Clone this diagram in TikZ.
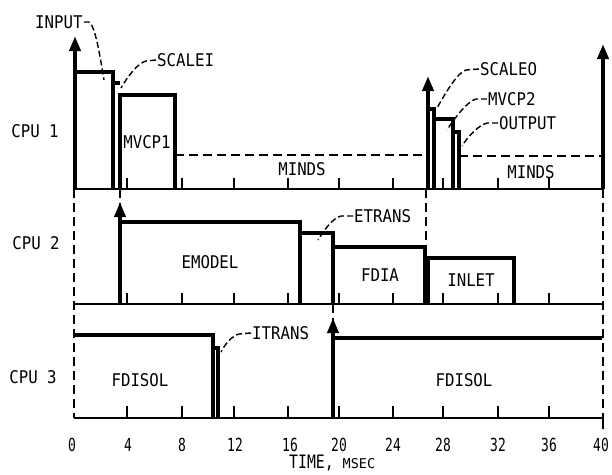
\documentclass[tikz,border=0pt]{standalone}
\usepackage{fontspec}
\setmainfont{DejaVu Sans Mono}[FakeStretch=0.9]
\newfontfamily\numfont{DejaVu Sans Mono}[FakeStretch=0.72]
\newfontfamily\timefont{DejaVu Sans Mono}[FakeStretch=0.8]
\newfontfamily\msecfont{DejaVu Sans Mono}
\usetikzlibrary{arrows.meta}
\begin{document}
\begin{tikzpicture}[x=1pt,y=-1pt,
  task/.style={line width=4pt, line join=miter},
  base/.style={line width=2pt},
  tickmark/.style={line width=1.8pt},
  dsh/.style={line width=2.2pt, dash pattern=on 9pt off 5pt},
  lead/.style={line width=1.4pt, dash pattern=on 6pt off 3pt},
  lbl/.style={font=\fontsize{17.5}{17.5}\selectfont, inner sep=1pt},
  num/.style={font=\numfont\fontsize{18}{18}\selectfont, inner sep=0pt},
  up/.style={-{Triangle[length=15pt,width=11pt]}}]
\useasboundingbox (0,0) rectangle (612,474);

% baselines
\draw[base] (74,189) -- (603,189);
\draw[base] (74,304) -- (603,304);
\draw[base] (74,418) -- (603,418);
\foreach \x in {127,182,234,288,339,393,443,498,549}{
  \draw[tickmark] (\x,189) -- ++(0,-11);
  \draw[tickmark] (\x,304) -- ++(0,-11);
  \draw[tickmark] (\x,418) -- ++(0,-12);
}
\draw[tickmark] (603,418) -- (603,429);

% dashed verticals
\draw[dsh] (74,189) -- (74,418);
\draw[dsh] (603,189) -- (603,418);
\draw[dsh] (120,189) -- (120,206);
\draw[dsh] (426,189) -- (426,247);
\draw[dsh] (333,304) -- (333,322);

% CPU 1
\draw[task, up] (75,189) -- (75,36);
\draw[task] (75,72) -- (113,72) -- (113,189);
\draw[task] (113,83) -- (120,83);
\draw[task] (120,189) -- (120,95) -- (175,95) -- (175,189);
\draw[dsh] (175,155) -- (428,155);
\draw[task, up] (428,189) -- (428,76);
\draw[task] (428,109) -- (434,109) -- (434,189);
\draw[task] (434,119) -- (453,119) -- (453,189);
\draw[task] (453,132) -- (459,132) -- (459,189);
\draw[dsh] (459,156) -- (603,156);
\draw[task, up] (603,189) -- (603,44);

% CPU 2
\draw[task, up] (120,304) -- (120,202);
\draw[task] (120,222) -- (300,222) -- (300,304);
\draw[task] (300,233) -- (333,233) -- (333,304);
\draw[task] (333,247) -- (425,247) -- (425,304);
\draw[task] (428,304) -- (428,258) -- (514,258) -- (514,304);

% CPU 3
\draw[task] (74,335) -- (213,335) -- (213,418);
\draw[task] (213,348) -- (218,348) -- (218,418);
\draw[task, up] (333,418) -- (333,318);
\draw[task] (333,338) -- (602,338);

% labels
\node[lbl] (cpu1) at (35,131) {CPU 1};
\node[lbl] (cpu2) at (36,243) {CPU 2};
\node[lbl] (cpu3) at (33,377) {CPU 3};
\node[lbl] (mvcp1) at (147,142) {MVCP1};
\node[lbl] (minds1) at (302,169) {MINDS};
\node[lbl] (minds2) at (531,172) {MINDS};
\node[lbl] (emodel) at (210,262) {EMODEL};
\node[lbl] (fdia) at (380,275) {FDIA};
\node[lbl] (inlet) at (471,280) {INLET};
\node[lbl] (fdisol1) at (140,380) {FDISOL};
\node[lbl] (fdisol2) at (464,380) {FDISOL};

\node[lbl, anchor=west] (input) at (34,22) {INPUT};
\node[lbl, anchor=west] (scalei) at (156,60) {SCALEI};
\node[lbl, anchor=west] (scaleo) at (479,69) {SCALEO};
\node[lbl, anchor=west] (mvcp2) at (487,99) {MVCP2};
\node[lbl, anchor=west] (output) at (498,123) {OUTPUT};
\node[lbl, anchor=west] (etrans) at (353,216) {ETRANS};
\node[lbl, anchor=west] (itrans) at (251,333) {ITRANS};

\coordinate (inputE) at (104,80);
\coordinate (scaleiE) at (121,88);
\coordinate (scaleoE) at (437,108);
\coordinate (mvcp2E) at (447,130);
\coordinate (outputE) at (462,146);
\coordinate (etransE) at (318,240);
\coordinate (itransE) at (221,352);

\draw[lead] (input.east) -- (89,22) .. controls (95,26) and (99,50) .. (inputE);
\draw[lead] (scalei.west) -- (146,61) .. controls (138,63) and (128,76) .. (scaleiE);
\draw[lead] (scaleo.west) -- (466,70) .. controls (458,72) and (446,92) .. (scaleoE);
\draw[lead] (mvcp2.west) -- (476,99) .. controls (468,101) and (456,116) .. (mvcp2E);
\draw[lead] (output.west) -- (487,123) .. controls (479,125) and (468,136) .. (outputE);
\draw[lead] (etrans.west) -- (341,216) .. controls (333,218) and (324,230) .. (etransE);
\draw[lead] (itrans.west) -- (239,334) .. controls (232,336) and (225,344) .. (itransE);

% axis
\foreach \t/\x in {0/72,4/128,8/182,12/235,16/290,20/339,24/393,28/443,32/498,36/549,40/601}{
  \node[num] (t\t) at (\x,445) {\t};
}
\node[inner sep=0pt, anchor=base west] (timelbl) at (289,468) {\timefont\fontsize{18.5}{18.5}\selectfont TIME, {\msecfont\fontsize{13.5}{13.5}\selectfont MSEC}};
\end{tikzpicture}
\end{document}
